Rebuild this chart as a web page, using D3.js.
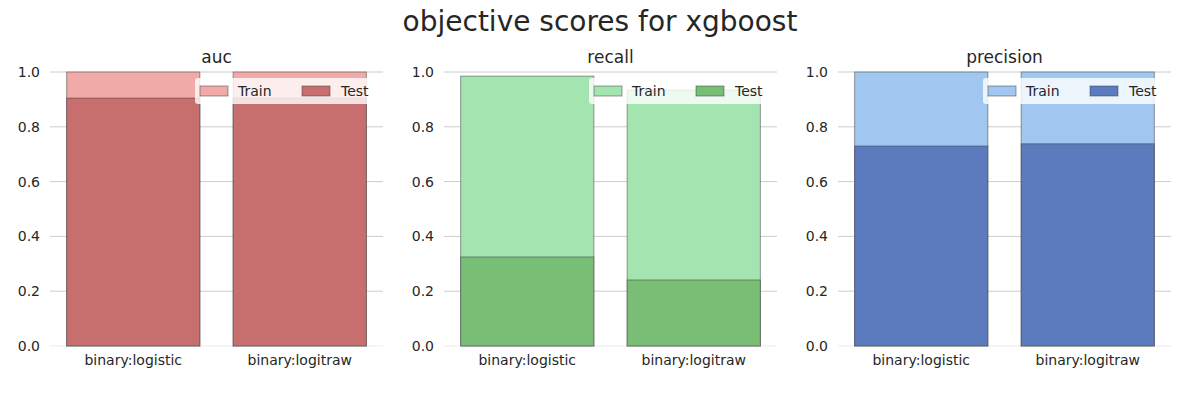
<!DOCTYPE html>
<html>
<head>
<meta charset="utf-8">
<script src="https://cdn.jsdelivr.net/npm/d3@7"></script>
<style>
  body { margin: 0; background: #fff; }
  text { font-family: "DejaVu Sans", sans-serif; fill: #262626; }
</style>
</head>
<body>
<div id="chart"></div>
<script>
// data
const objectives = ["binary:logistic", "binary:logitraw"];
const metrics = ["auc", "recall", "precision"];
const trainScores = {
  auc: [1.0, 1.0],
  recall: [0.985, 0.934],
  precision: [1.0, 1.0]
};
const testScores = {
  auc: [0.905, 0.905],
  recall: [0.325, 0.241],
  precision: [0.730, 0.738]
};
const yTicks = [0, 0.2, 0.4, 0.6, 0.8, 1.0];

const trainColors = { auc: "#f0aaa7", recall: "#a3e4b1", precision: "#a1c7f1" };
const testColors = { auc: "#c66f6e", recall: "#78be74", precision: "#5b7bbe" };

const W = 1200, H = 400;
const svg = d3.select("#chart").append("svg")
  .attr("width", W).attr("height", H);

svg.append("text")
  .attr("x", 600).attr("y", 31)
  .attr("text-anchor", "middle")
  .style("font-size", "28px")
  .text("objective scores for xgboost");

const panelLeft = [50, 444, 838];
const panelW = 333, plotTop = 72, plotBottom = 346;

metrics.forEach((m, i) => {
  const g = svg.append("g").attr("transform", `translate(${panelLeft[i]},0)`);

  const x = d3.scaleBand().domain(objectives).range([0, panelW]).paddingInner(0.2).paddingOuter(0.1);
  const y = d3.scaleLinear().domain([0, 1]).range([plotBottom, plotTop]);

  // grid
  g.selectAll(".grid").data(yTicks.slice(1)).enter().append("line")
    .attr("x1", 0).attr("x2", panelW)
    .attr("y1", d => y(d)).attr("y2", d => y(d))
    .attr("stroke", "#cccccc").attr("stroke-width", 1);

  // bottom spine
  g.append("line")
    .attr("x1", 0).attr("x2", panelW)
    .attr("y1", y(0)).attr("y2", y(0))
    .attr("stroke", "#ebebeb");

  // y axis
  const yAxis = g.append("g").call(d3.axisLeft(y).tickValues(yTicks).tickFormat(d3.format(".1f")).tickSize(0).tickPadding(10));
  yAxis.select(".domain").remove();
  yAxis.selectAll("text").style("font-size", "14px").style("font-family", "DejaVu Sans").attr("fill", "#262626");

  // x axis
  const xAxis = g.append("g").attr("transform", `translate(0,${plotBottom})`)
    .call(d3.axisBottom(x).tickSize(0).tickPadding(9));
  xAxis.select(".domain").remove();
  xAxis.selectAll("text").style("font-size", "14px").style("font-family", "DejaVu Sans").attr("fill", "#262626");

  // train bars
  g.selectAll(".train").data(objectives).enter().append("rect")
    .attr("x", d => x(d)).attr("width", x.bandwidth())
    .attr("y", (d, j) => y(trainScores[m][j]))
    .attr("height", (d, j) => y(0) - y(trainScores[m][j]))
    .attr("fill", trainColors[m])
    .attr("stroke", "rgba(60,60,60,0.5)").attr("stroke-width", 1);

  // test bars
  g.selectAll(".test").data(objectives).enter().append("rect")
    .attr("x", d => x(d)).attr("width", x.bandwidth())
    .attr("y", (d, j) => y(testScores[m][j]))
    .attr("height", (d, j) => y(0) - y(testScores[m][j]))
    .attr("fill", testColors[m])
    .attr("stroke", "rgba(60,60,60,0.5)").attr("stroke-width", 1);

  // subplot title
  g.append("text")
    .attr("x", panelW / 2).attr("y", 63)
    .attr("text-anchor", "middle")
    .style("font-size", "17px")
    .text(m);

  // legend
  const lg = g.append("g").attr("transform", `translate(${panelW - 188},78)`);
  lg.append("rect")
    .attr("width", 181).attr("height", 26).attr("rx", 3)
    .attr("fill", "rgba(255,255,255,0.8)");
  [["Train", trainColors[m]], ["Test", testColors[m]]].forEach(([lab, c], k) => {
    lg.append("rect")
      .attr("x", 5 + k * 102).attr("y", 8)
      .attr("width", 28).attr("height", 10)
      .attr("fill", c).attr("stroke", "rgba(60,60,60,0.5)");
    lg.append("text")
      .attr("x", 43 + k * 103).attr("y", 18)
      .style("font-size", "14px")
      .text(lab);
  });
});
</script>
</body>
</html>
